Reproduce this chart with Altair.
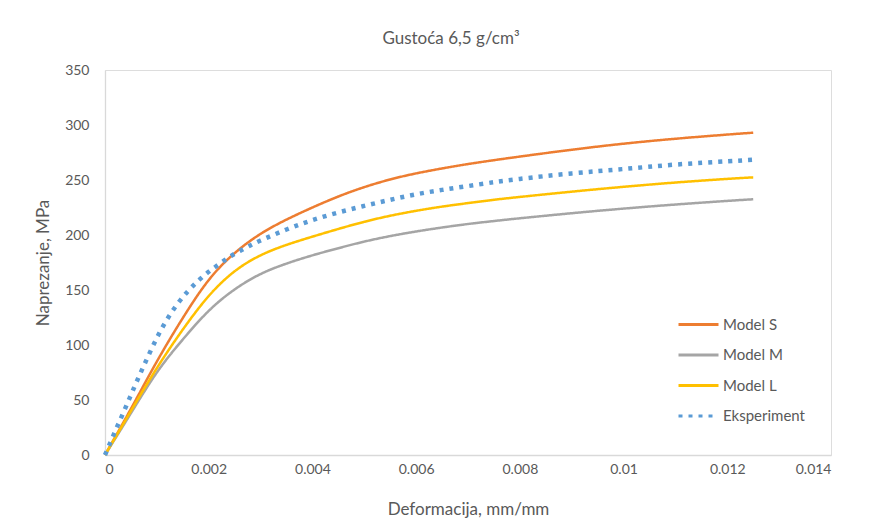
import altair as alt
import pandas as pd

# strain values (mm/mm) for the model curves
x_model = [0, 0.0005, 0.001, 0.0015, 0.002, 0.0025, 0.003, 0.0035, 0.004, 0.0045,
           0.005, 0.0055, 0.006, 0.0065, 0.007, 0.0075, 0.008, 0.009, 0.010, 0.011,
           0.012, 0.0125]
model_s = [0, 42, 85, 124.5, 159, 183.5, 201, 214, 225, 235, 243.5, 250.5, 256, 260.5,
           264.5, 268, 271.3, 277.5, 283, 287.5, 291.3, 293]
model_m = [0, 38, 75, 105, 131, 150.5, 164.5, 174, 181.5, 188, 194, 199, 203.2, 206.8,
           210, 212.7, 215.2, 219.8, 224, 227.7, 231, 232.5]
model_l = [0, 40, 79, 114, 144.5, 167, 181.5, 191, 198.5, 205.5, 212, 217.5, 222, 225.8,
           229, 232, 234.6, 239.4, 243.8, 247.7, 251, 252.4]

# experimental curve
x_exp = [0, 0.0002, 0.0004, 0.0006, 0.0008, 0.001, 0.0012, 0.0014, 0.0016, 0.0018,
         0.002, 0.0022, 0.0024, 0.0026, 0.0028, 0.003, 0.0035, 0.004, 0.0045, 0.005,
         0.0055, 0.006, 0.0065, 0.007, 0.0075, 0.008, 0.009, 0.010, 0.011, 0.012, 0.0125]
y_exp = [0, 22, 43.5, 65.5, 86.5, 106.5, 123.5, 137.5, 149, 158.5, 166.5, 173.5, 180,
         185.5, 190.5, 195, 205, 213.5, 220.5, 226.5, 232, 237, 241, 244.5, 248, 251,
         256, 260, 264, 267, 268.5]

series_names = ["Model S", "Model M", "Model L", "Eksperiment"]
series_colors = ["#ED7D31", "#A5A5A5", "#FFC000", "#5B9BD5"]
series_dash = [[1, 0], [1, 0], [1, 0], [4, 6]]
series_width = [2.5, 2.5, 2.5, 4.5]

rows = []
for k, (name, ys) in enumerate(zip(series_names[:3], [model_s, model_m, model_l])):
    for i, (x, y) in enumerate(zip(x_model, ys)):
        rows.append({"x": x, "y": y, "serija": name, "ord": i, "w": series_width[k]})
for i, (x, y) in enumerate(zip(x_exp, y_exp)):
    rows.append({"x": x, "y": y, "serija": "Eksperiment", "ord": i, "w": series_width[3]})
df = pd.DataFrame(rows)

FONT = "Lato"
TXT = "#595959"

chart = alt.Chart(df).mark_line(strokeCap="butt", strokeJoin="round", interpolate="natural").encode(
    x=alt.X("x:Q",
            scale=alt.Scale(domain=[0, 0.014], nice=False),
            axis=alt.Axis(title="Deformacija, mm/mm", values=[0, 0.002, 0.004, 0.006, 0.008, 0.01, 0.012, 0.014],
                          labelExpr="datum.value == 0 ? '0' : format(datum.value, '.3~f')",
                          grid=False, ticks=False, domainColor="#D9D9D9", domainWidth=1.3,
                          labelPadding=7, titlePadding=25, labelFontSize=14, titleFontSize=17,
                          labelColor=TXT, titleColor=TXT, labelFont=FONT, titleFont=FONT,
                          titleFontWeight="normal")),
    y=alt.Y("y:Q",
            scale=alt.Scale(domain=[0, 350], nice=False),
            axis=alt.Axis(title="Naprezanje, MPa", values=list(range(0, 351, 50)),
                          grid=False, ticks=False, domainColor="#D9D9D9", domainWidth=1.3,
                          labelPadding=16, titlePadding=12, labelFontSize=14, titleFontSize=17,
                          labelColor=TXT, titleColor=TXT, labelFont=FONT, titleFont=FONT,
                          titleFontWeight="normal")),
    color=alt.Color("serija:N",
                    scale=alt.Scale(domain=series_names, range=series_colors),
                    sort=series_names,
                    legend=alt.Legend(title=None, orient="none", legendX=572, legendY=233,
                                      symbolType="stroke", symbolSize=1600, symbolStrokeWidth=3,
                                      labelFontSize=15, labelFont=FONT, labelColor=TXT,
                                      rowPadding=0.5, labelOffset=3, padding=0)),
    strokeDash=alt.StrokeDash("serija:N",
                              scale=alt.Scale(domain=series_names, range=series_dash),
                              sort=series_names, legend=None),
    strokeWidth=alt.StrokeWidth("w:Q", scale=None, legend=None),
    order="ord:Q",
).properties(
    width=726,
    height=385,
    autosize=alt.AutoSizeParams(type="none"),
    padding={"left": 97, "top": 62, "right": 40, "bottom": 72},
    title=alt.Title("Gustoća 6,5 g/cm³", font=FONT, fontSize=17, fontWeight="normal",
                    color=TXT, anchor="middle", offset=15, dx=-17),
).configure_view(stroke=None).configure(background="white")

chart.save("out.html", embed_options={"renderer": "svg", "actions": False})
